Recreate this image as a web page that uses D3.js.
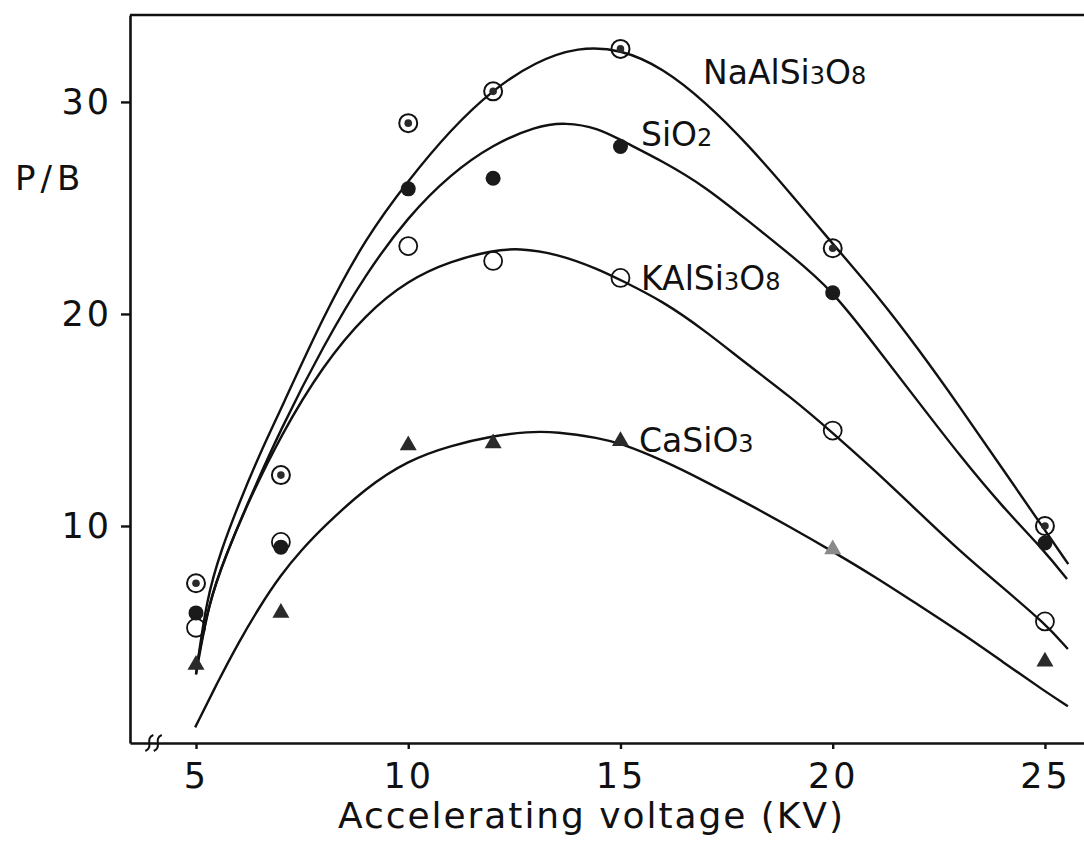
<!DOCTYPE html>
<html>
<head>
<meta charset="utf-8">
<script src="https://cdn.jsdelivr.net/npm/d3@7"></script>
<style>
  body { margin: 0; background: #ffffff; }
  svg { display: block; }
</style>
</head>
<body>
<script>
// P/B versus accelerating voltage

// Measured points
const voltages = [5, 7, 10, 12, 15, 20, 25];
const naAlSi3O8 = [7.3, 12.4, 29.0, 30.5, 32.5, 23.1, 10.0];
const siO2 = [5.9, 9.0, 25.9, 26.4, 27.9, 21.0, 9.2];
const kAlSi3O8 = [5.2, 9.25, 23.2, 22.5, 21.7, 14.5, 5.5];
const caSiO3 = [3.45, 5.9, 13.8, 13.9, 14.0, 8.9, 3.6];

// Hand drawn fitted curves (KV, P/B)
const naCurveKV = [5.0, 5.25, 5.6, 6.0, 6.5, 7.0, 8.0, 9.0, 10.0, 11.0, 12.0, 13.0, 14.0, 15.0, 16.0, 17.0, 18.0, 19.0, 20.0, 21.0, 22.0, 23.0, 24.0, 25.0, 25.55];
const naCurvePB = [3.0, 6.6, 8.9, 11.0, 13.4, 15.5, 19.9, 23.6, 26.3, 28.7, 30.6, 31.9, 32.6, 32.5, 31.6, 30.0, 28.0, 25.7, 23.3, 21.0, 18.4, 15.6, 12.7, 9.8, 8.2];
const siCurveKV = [5.0, 5.3, 5.7, 6.2, 7.0, 8.0, 9.0, 10.0, 11.0, 12.0, 13.0, 13.7, 14.5, 15.0, 16.0, 17.0, 18.0, 19.0, 20.0, 21.0, 22.0, 23.0, 24.0, 25.0, 25.52];
const siCurvePB = [3.0, 6.4, 8.6, 11.0, 14.6, 18.5, 21.9, 24.6, 26.6, 28.0, 28.85, 29.05, 28.75, 28.2, 27.2, 26.0, 24.4, 22.8, 21.1, 18.5, 15.9, 13.3, 10.9, 8.8, 7.5];
const kCurveKV = [5.0, 5.3, 5.7, 6.2, 7.0, 8.0, 9.0, 10.0, 11.0, 12.0, 12.6, 13.5, 14.5, 15.0, 16.0, 17.0, 18.0, 19.0, 20.0, 21.0, 22.0, 23.0, 24.0, 25.0, 25.54];
const kCurvePB = [3.2, 6.4, 8.6, 11.0, 14.3, 17.6, 20.0, 21.6, 22.5, 23.0, 23.1, 22.85, 22.1, 21.6, 20.6, 19.2, 17.6, 16.1, 14.4, 12.6, 10.7, 8.8, 7.1, 5.4, 4.2];
const caCurveKV = [4.98, 5.5, 6.0, 6.5, 7.0, 7.5, 8.0, 9.0, 10.0, 11.0, 12.0, 12.8, 13.5, 14.5, 15.0, 16.0, 17.0, 18.0, 19.0, 20.0, 21.0, 22.0, 23.0, 24.0, 25.0, 25.54];
const caCurvePB = [0.5, 2.6, 4.5, 6.2, 7.7, 8.9, 9.95, 11.8, 13.1, 13.8, 14.25, 14.45, 14.45, 14.15, 13.9, 13.1, 12.1, 11.05, 9.95, 8.8, 7.6, 6.3, 5.0, 3.6, 2.2, 1.5];

// Ticks
const xTicks = [5, 10, 15, 20, 25];
const yTicks = [10, 20, 30];

// Needed Variables
const width = 1084;
const height = 841;
const plot = {left: 130, right: 1084, top: 15, bottom: 743};
const font = '"DejaVu Sans", sans-serif';
const ink = '#111';

var svg = d3.select('body')
  .append('svg')
  .attr('width', width)
  .attr('height', height);

// Scales
var xScale = d3.scaleLinear()
  .domain([3.445, 25.92])
  .range([plot.left, plot.right]);

var yScale = d3.scaleLinear()
  .domain([-0.236, 34.1])
  .range([plot.bottom, plot.top]);

// Axes
var yAxis = d3.axisLeft(yScale)
  .tickValues(yTicks)
  .tickSize(9)
  .tickSizeOuter(0)
  .tickPadding(9);

var gy = svg.append('g')
  .attr('transform', 'translate(' + plot.left + ',0)')
  .call(yAxis);

var xAxis = d3.axisBottom(xScale)
  .tickValues(xTicks)
  .tickSize(6)
  .tickSizeOuter(0)
  .tickPadding(14);

var gx = svg.append('g')
  .attr('transform', 'translate(0,' + plot.bottom + ')')
  .call(xAxis);

[gx, gy].forEach(function(g) {
  g.select('.domain').attr('stroke', ink).attr('stroke-width', 2.6);
  g.selectAll('.tick line').attr('stroke', ink).attr('stroke-width', 2.4);
  g.selectAll('.tick text')
    .attr('fill', ink)
    .attr('font-family', font)
    .attr('font-size', 35)
    .attr('letter-spacing', 3);
});
gx.selectAll('.tick text').attr('dy', '0.71em');

// top frame line
svg.append('line')
  .attr('x1', plot.left).attr('x2', plot.right)
  .attr('y1', yScale.range()[1]).attr('y2', yScale.range()[1])
  .attr('stroke', ink)
  .attr('stroke-width', 2.6);

// axis break on x axis
[xScale(3.9), xScale(4.1)].forEach(function(bx) {
  var by = plot.bottom;
  svg.append('path')
    .attr('d', 'M' + (bx - 4) + ',' + (by + 8) + ' C' + (bx + 5) + ',' + (by + 4) + ' ' + (bx - 5) + ',' + (by - 4) + ' ' + (bx + 4) + ',' + (by - 8))
    .attr('fill', 'none')
    .attr('stroke', ink)
    .attr('stroke-width', 2);
});

// Axis titles
svg.append('text')
  .attr('x', 338)
  .attr('y', 828)
  .attr('textLength', 505)
  .attr('lengthAdjust', 'spacing')
  .attr('font-family', font)
  .attr('font-size', 36)
  .attr('fill', ink)
  .text('Accelerating voltage (KV)');

svg.append('text')
  .attr('x', 15)
  .attr('y', 190)
  .attr('font-family', font)
  .attr('font-size', 34)
  .attr('letter-spacing', 5)
  .attr('fill', ink)
  .text('P/B');

// Curves
var line = d3.line()
  .x(function(d) { return xScale(d[0]); })
  .y(function(d) { return yScale(d[1]); })
  .curve(d3.curveBasis);

[[naCurveKV, naCurvePB], [siCurveKV, siCurvePB], [kCurveKV, kCurvePB], [caCurveKV, caCurvePB]].forEach(function(c) {
  svg.append('path')
    .attr('d', line(d3.zip(c[0], c[1])))
    .attr('fill', 'none')
    .attr('stroke', ink)
    .attr('stroke-width', 2.4);
});

// Markers
var marks = svg.append('g');

marks.selectAll('.k')
  .data(d3.zip(voltages, kAlSi3O8))
  .join('circle')
  .attr('cx', function(d) { return xScale(d[0]); })
  .attr('cy', function(d) { return yScale(d[1]); })
  .attr('r', 9)
  .attr('fill', 'none')
  .attr('stroke', ink)
  .attr('stroke-width', 1.8);

marks.selectAll('.si')
  .data(d3.zip(voltages, siO2))
  .join('circle')
  .attr('cx', function(d) { return xScale(d[0]); })
  .attr('cy', function(d) { return yScale(d[1]); })
  .attr('r', 7.5)
  .attr('fill', '#1a1a1a');

var na = marks.selectAll('.na')
  .data(d3.zip(voltages, naAlSi3O8))
  .join('g')
  .attr('transform', function(d) { return 'translate(' + xScale(d[0]) + ',' + yScale(d[1]) + ')'; });
na.append('circle').attr('r', 9).attr('fill', 'none').attr('stroke', ink).attr('stroke-width', 2);
na.append('circle').attr('r', 3.8).attr('fill', '#2a2a2a');

marks.selectAll('.ca')
  .data(d3.zip(voltages, caSiO3))
  .join('path')
  .attr('transform', function(d) { return 'translate(' + xScale(d[0]) + ',' + yScale(d[1]) + ')'; })
  .attr('d', d3.symbol(d3.symbolTriangle, 125))
  .attr('fill', function(d) { return d[0] === 20 ? '#8a8a8a' : '#2a2a2a'; });

// Series labels
function label(x, y, parts) {
  var t = svg.append('text')
    .attr('x', x)
    .attr('y', y)
    .attr('font-family', font)
    .attr('font-size', 33)
    .attr('fill', ink);
  parts.forEach(function(p) {
    var s = t.append('tspan').text(p[0]);
    if (p[1]) s.attr('font-size', 24);
  });
}
label(703, 84, [['NaAlSi'], ['3', true], ['O'], ['8', true]]);
label(641, 146, [['SiO'], ['2', true]]);
label(641, 290, [['KAlSi'], ['3', true], ['O'], ['8', true]]);
label(639, 452, [['CaSiO'], ['3', true]]);
</script>
</body>
</html>
